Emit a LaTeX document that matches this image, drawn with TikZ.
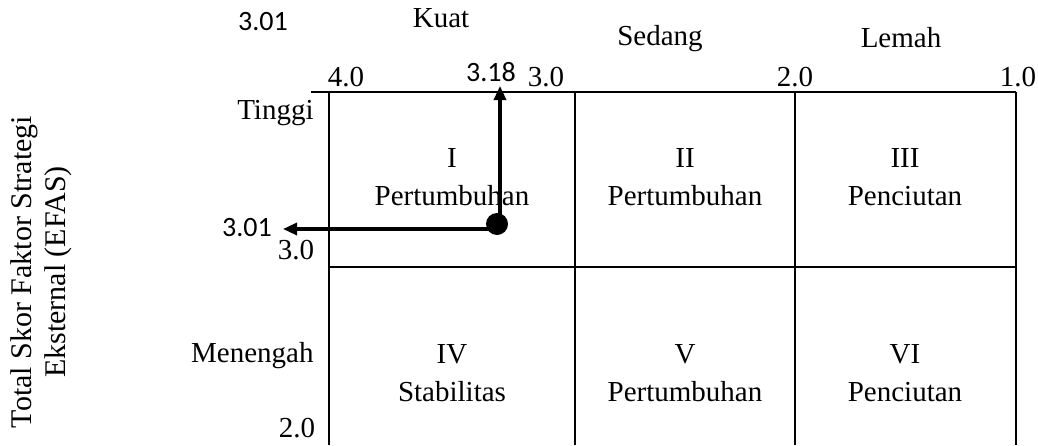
\documentclass[tikz,border=0pt]{standalone}
\usepackage{fontspec}
\setmainfont{Liberation Serif}
\newfontfamily\calibri{Carlito}
\usetikzlibrary{positioning,arrows.meta}

\begin{document}
\begin{tikzpicture}[
    x=0.5pt, y=-0.5pt,
    font=\fontsize{14.5}{16}\selectfont,
    grid/.style={line width=1.2pt},
    cell/.style={align=center, inner sep=0pt, font=\fontsize{14.5}{19}\selectfont},
    tick/.style={inner sep=0pt},
    score/.style={inner sep=0pt, font=\calibri\fontsize{14}{16}\selectfont},
    pointer/.style={line width=1.6pt, -{Triangle[length=7pt,width=6pt]}}
  ]

  \useasboundingbox (0,0) rectangle (1038,445);

% --- IE matrix grid (3 x 2 cells) ---
    \draw[grid] (311,92) -- (1016,92);
    \draw[grid] (329,267) -- (1016,267);
    \foreach \x in {329,575,795,1016}
      \draw[grid] (\x,92) -- (\x,445);

% --- Column headings (IFAS) ---
    \node (kuat)   at (441,18) {Kuat};
    \node (sedang) at (660,39) {Sedang};
    \node (lemah)  at (901,38) {Lemah};

    \node[tick] (x40) at (346,77) {4.0};
    \node[tick] (x30) at (546,77) {3.0};
    \node[tick] (x20) at (795,77) {2.0};
    \node[tick] (x10) at (1018,77) {1.0};

% --- Row headings (EFAS) ---
    \node[tick, anchor=east] (tinggi)   at (314,113) {Tinggi};
    \node[tick, anchor=east] (menengah) at (314,356) {Menengah};
    \node[tick] (y30) at (296,250) {3.0};
    \node[tick] (y20) at (297,428) {2.0};

    \node[rotate=90, align=center, font=\fontsize{15}{17}\selectfont] (efas)
      at (41,272) {Total Skor Faktor Strategi\\Eksternal (EFAS)};

% --- Cells ---
    \node[cell] (c1) at (452,177) {I\\Pertumbuhan};
    \node[cell] (c2) at (685,177) {II\\Pertumbuhan};
    \node[cell] (c3) at (905,177) {III\\Penciutan};
    \node[cell] (c4) at (452,373) {IV\\Stabilitas};
    \node[cell] (c5) at (685,373) {V\\Pertumbuhan};
    \node[cell] (c6) at (905,373) {VI\\Penciutan};

% --- Position of the total scores ---
    \node[score] (s301top)  at (263,22)  {3.01};
    \node[score] (s318)     at (491,72)  {3.18};
    \node[score] (s301left) at (247,228) {3.01};

    \node[circle, fill, inner sep=0pt, minimum size=11pt] (dot) at (497,224) {};
    \coordinate (top)  at (500,86);
    \coordinate (left) at (283,229);

    \draw[pointer] (dot.center -| top) -- (top);
    \draw[pointer] (dot.center |- left) -- (left);

  \end{tikzpicture}
\end{document}
